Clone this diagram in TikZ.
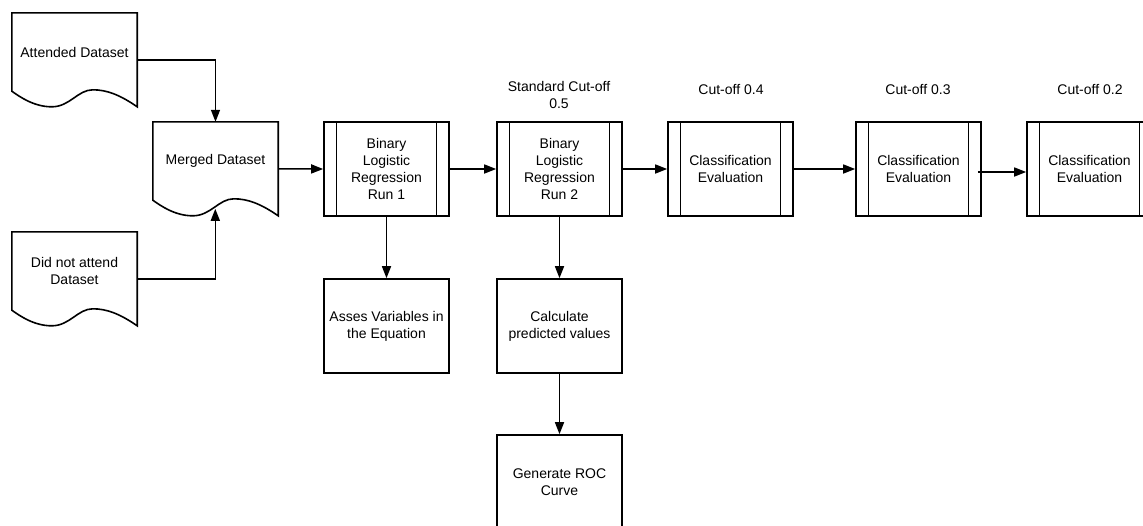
\documentclass[tikz,border=0pt]{standalone}
\usepackage{fontspec}
\setmainfont{Liberation Sans}
\usetikzlibrary{arrows.meta,calc}
\newcommand\docoutline[1]{%
  \draw[ln] (#1.south west) -- (#1.north west) -- (#1.north east) -- ($(#1.north east)+(0,94)$)
    .. controls ($(#1.north west)+(108,82)$) and ($(#1.north west)+(95,77)$) .. ($(#1.north west)+(81,77)$)
    .. controls ($(#1.north west)+(66,77)$) and ($(#1.north west)+(58,94)$) .. ($(#1.north west)+(40,94)$)
    .. controls ($(#1.north west)+(22,94)$) and ($(#1.north west)+(8,84)$) .. (#1.south west) -- cycle;}
\begin{document}
\begin{tikzpicture}[x=1pt,y=-1pt,
  every node/.style={font=\fontsize{14}{17}\selectfont, inner sep=0pt, align=center},
  ln/.style={line width=1.6pt, black},
  box/.style={draw, ln, minimum width=125pt, minimum height=94pt},
  predef/.style={box, path picture={\draw[line width=1.6pt]
      ([xshift=12.5pt]path picture bounding box.north west) -- ([xshift=12.5pt]path picture bounding box.south west)
      ([xshift=-12.5pt]path picture bounding box.north east) -- ([xshift=-12.5pt]path picture bounding box.south east);}},
  doc/.style={minimum width=125pt, minimum height=78pt},
  lbl/.style={},
  arr/.style={line width=1.5pt, -{Triangle[length=12pt,width=9pt]}}]
\useasboundingbox (0,0) rectangle (1143,525);
\clip (0,0) rectangle (1143,525);
\fill[white] (0,0) rectangle (1143,525);

% documents
\node[doc] (att) at (74.5,52) {Attended Dataset};
\node[doc] (dna) at (74.5,271) {Did not attend\\Dataset};
\node[doc] (mrg) at (215.5,161) {Merged Dataset};
\docoutline{att}
\docoutline{dna}
\docoutline{mrg}

% processes
\node[predef] (r1) at (386.5,169) {Binary\\Logistic\\Regression\\Run 1};
\node[predef] (r2) at (559.5,169) {Binary\\Logistic\\Regression\\Run 2};
\node[predef] (c1) at (730.5,169) {Classification\\Evaluation};
\node[predef] (c2) at (918.5,169) {Classification\\Evaluation};
\node[predef] (c3) at (1089.5,169) {Classification\\Evaluation};

\node[box] (as) at (386.5,326) {Asses Variables in\\the Equation};
\node[box] (calc) at (559.5,326) {Calculate\\predicted values};
\node[box] (roc) at (559.5,482) {Generate ROC\\Curve};

% labels
\node[lbl] (l05) at (559,94.5) {Standard Cut-off\\0.5};
\node[lbl] (l04) at (731,90) {Cut-off 0.4};
\node[lbl] (l03) at (918,90) {Cut-off 0.3};
\node[lbl] (l02) at (1090,90) {Cut-off 0.2};

% connectors
\coordinate (mw) at ($(mrg.north west)+(62.5,87)$);
\draw[arr] ($(att.north east)+(0,47)$) -| (mrg.north);
\draw[arr] ($(dna.north east)+(0,47)$) -| (mw);
\draw[arr] ($(mrg.north east)+(0,47)$) -- (r1.west);
\draw[arr] (r1.east) -- (r2.west);
\draw[arr] (r2.east) -- (c1.west);
\draw[arr] (c1.east) -- (c2.west);
\draw[arr] ($(c2.east)+(-4,3)$) -- ($(c3.west)+(0,3)$);
\draw[arr] (r1.south) -- (as.north);
\draw[arr] (r2.south) -- (calc.north);
\draw[arr] (calc.south) -- (roc.north);
\end{tikzpicture}
\end{document}
